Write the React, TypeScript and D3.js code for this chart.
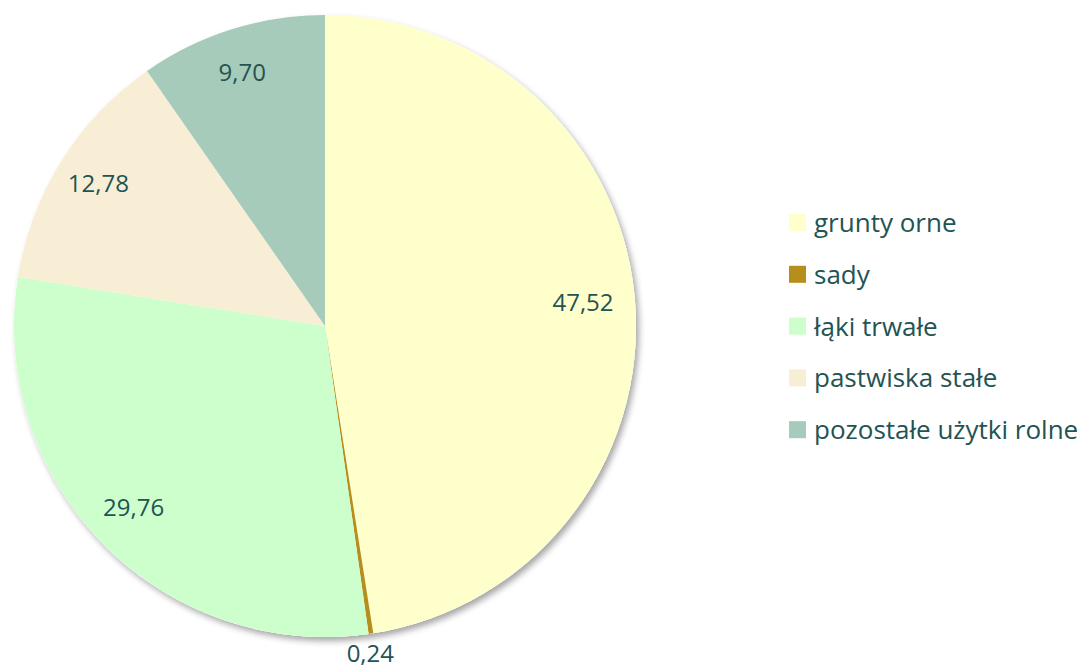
import React from "react";
import * as d3 from "d3";

const categories = ["grunty orne", "sady", "łąki trwałe", "pastwiska stałe", "pozostałe użytki rolne"];
const values = [47.52, 0.24, 29.76, 12.78, 9.7];
const labels = ["47,52", "0,24", "29,76", "12,78", "9,70"];
const colors = ["#FFFFCC", "#B68E1B", "#CCFFCC", "#F8EED6", "#A6CBBA"];

const W = 1090;
const H = 671;
const cx = 325;
const cy = 326;
const R = 311;
const textColor = "#235353";
const font = "'Open Sans', Lato, sans-serif";

export default function App() {
  const pie = d3.pie<number>().sort(null).value((d) => d);
  const arcs = pie(values);
  const arcGen = d3.arc<d3.PieArcDatum<number>>().innerRadius(0).outerRadius(R);
  const labelArc = d3.arc<d3.PieArcDatum<number>>().innerRadius(R * 0.845).outerRadius(R * 0.845);
  const outerArc = d3.arc<d3.PieArcDatum<number>>().innerRadius(R + 23).outerRadius(R + 23);

  return (
    <svg width={W} height={H} style={{ position: "absolute", left: 0, top: 0 }}>
      <defs>
        <filter id="sh" x="-10%" y="-10%" width="120%" height="120%">
          <feDropShadow dx="3" dy="4" stdDeviation="3" floodColor="#000" floodOpacity="0.35" />
        </filter>
      </defs>
      <g transform={`translate(${cx},${cy})`}>
        <circle r={R} fill="#fff" filter="url(#sh)" />
        {arcs.map((a, i) => (
          <path key={i} d={arcGen(a) || ""} fill={colors[i]} />
        ))}
        {arcs.map((a, i) => {
          const small = a.value < 1;
          const [x, y] = small ? outerArc.centroid(a) : labelArc.centroid(a);
          return (
            <text
              key={"l" + i}
              x={x - 4}
              y={y - 4}
              textAnchor="middle"
              dominantBaseline="central"
              fontFamily={font}
              fontSize={24}
              fill={textColor}
            >
              {labels[i]}
            </text>
          );
        })}
      </g>
      <g>
        {categories.map((c, i) => {
          const y = 222 + i * 51.8;
          return (
            <g key={c}>
              <rect x={789} y={y - 8} width={17} height={17} fill={colors[i]} />
              <text
                x={814}
                y={y}
                dominantBaseline="central"
                fontFamily={font}
                fontSize={26}
                fill={textColor}
              >
                {c}
              </text>
            </g>
          );
        })}
      </g>
    </svg>
  );
}
